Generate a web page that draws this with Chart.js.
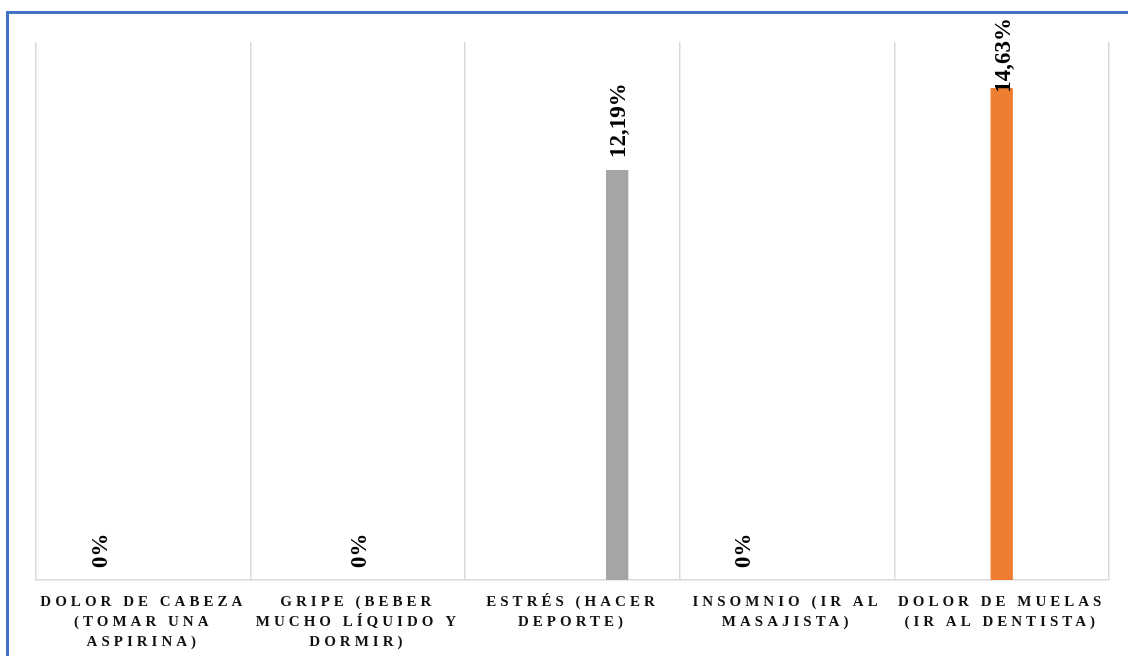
<!DOCTYPE html>
<html>
<head>
<meta charset="utf-8">
<script src="https://cdn.jsdelivr.net/npm/chart.js@4/dist/chart.umd.min.js"></script>
<style>
  html, body { margin: 0; padding: 0; background: #fff; overflow: hidden; }
  #wrap { position: relative; width: 1128px; height: 656px; }
  #marco { position: absolute; left: 6px; top: 11px; width: 1200px; height: 700px;
           border: 3.5px solid #4472C4; box-sizing: border-box; pointer-events: none; }
  canvas { position: absolute; left: 0; top: 0; }
</style>
</head>
<body>
<div id="wrap">
  <canvas id="grafico" width="1128" height="656"></canvas>
  <div id="marco"></div>
</div>
<script>
// categorias (eje x)
const categorias = [
	['DOLOR DE CABEZA', '(TOMAR UNA', 'ASPIRINA)'],
	['GRIPE (BEBER', 'MUCHO LÍQUIDO Y', 'DORMIR)'],
	['ESTRÉS (HACER', 'DEPORTE)'],
	['INSOMNIO (IR AL', 'MASAJISTA)'],
	['DOLOR DE MUELAS', '(IR AL DENTISTA)']
];

// porcentajes por serie (null = sin dato)
const serie1 = [0, null, null, 0, null];
const serie2 = [null, null, null, null, null];
const serie3 = [null, 0, null, null, 14.63];
const serie4 = [null, null, null, null, null];
const serie5 = [null, null, 12.19, null, null];

const ejeMin = 0;
const ejeMax = 16;

function formato(v){
	if (Number.isInteger(v)) return v + '%';
	return v.toFixed(2).replace('.', ',') + '%';
}

// etiquetas verticales encima de cada barra
const etiquetas = {
	id: 'etiquetas',
	beforeDraw(chart){
		chart.ctx.letterSpacing = '4px';
	},
	afterDatasetsDraw(chart){
		const ctx = chart.ctx;
		ctx.save();
		ctx.letterSpacing = '0px';
		ctx.font = 'bold 23px "Liberation Serif", "Times New Roman", serif';
		ctx.fillStyle = '#000';
		ctx.textAlign = 'left';
		ctx.textBaseline = 'middle';
		chart.data.datasets.forEach(function(ds, i){
			const meta = chart.getDatasetMeta(i);
			meta.data.forEach(function(barra, j){
				const v = ds.data[j];
				if (v === null || v === undefined) return;
				const txt = formato(v);
				const ancho = ctx.measureText(txt).width;
				let yBase = barra.y - 12;
				const tope = chart.chartArea.top - 24;
				if (yBase - ancho < tope) yBase = tope + ancho;
				ctx.save();
				ctx.translate(barra.x + 2, yBase);
				ctx.rotate(-Math.PI / 2);
				ctx.fillText(txt, 0, 0);
				ctx.restore();
			});
		});
		ctx.restore();
	},
	afterDraw(chart){
		chart.ctx.letterSpacing = '0px';
	}
};

new Chart('grafico', {
	type: 'bar',
	data: {
		labels: categorias,
		datasets: [
			{ label: 'Serie 1', data: serie1, backgroundColor: '#4472C4' },
			{ label: 'Serie 2', data: serie2, backgroundColor: '#FFC000' },
			{ label: 'Serie 3', data: serie3, backgroundColor: '#ED7D31' },
			{ label: 'Serie 4', data: serie4, backgroundColor: '#5B9BD5' },
			{ label: 'Serie 5', data: serie5, backgroundColor: '#A5A5A5' }
		]
	},
	plugins: [etiquetas],
	options: {
		responsive: false,
		devicePixelRatio: 1,
		animation: false,
		categoryPercentage: 0.52,
		barPercentage: 1.0,
		layout: {
			padding: { left: 36, right: 19, top: 42, bottom: 0 }
		},
		plugins: {
			legend: { display: false },
			tooltip: { enabled: false }
		},
		scales: {
			x: {
				grid: {
					display: true,
					color: '#D9D9D9',
					lineWidth: 1.5,
					drawTicks: false,
					offset: true
				},
				border: { display: true, color: '#D9D9D9', width: 1.5 },
				ticks: {
					color: '#111',
					padding: 12,
					maxRotation: 0,
					minRotation: 0,
					autoSkip: false,
					font: { family: '"Liberation Serif", "Times New Roman", serif', size: 15, weight: 'bold', lineHeight: '20px' }
				},
				afterFit(s){ s.height = 76; }
			},
			y: {
				display: false,
				min: ejeMin,
				max: ejeMax
			}
		}
	}
});
</script>
</body>
</html>
